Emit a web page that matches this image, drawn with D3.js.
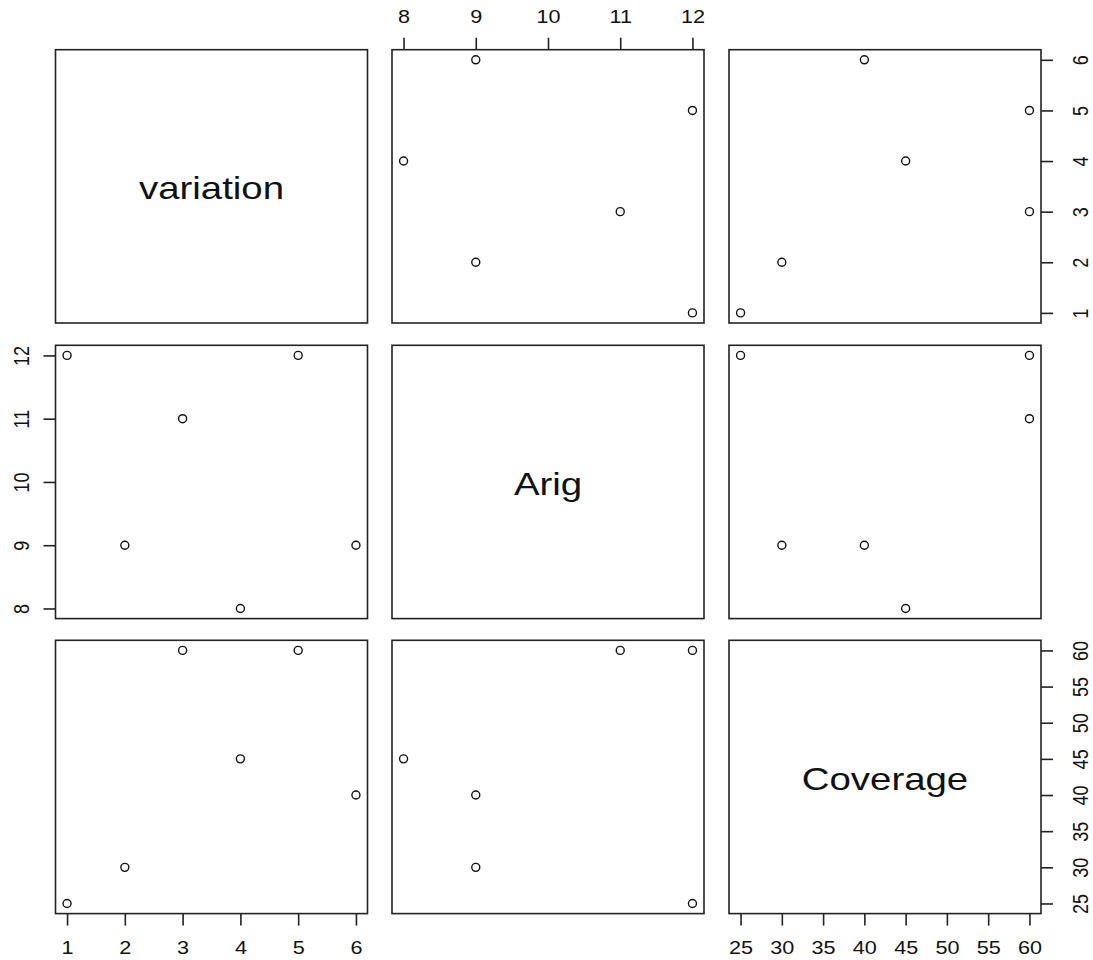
<!DOCTYPE html>
<html>
<head>
<meta charset="utf-8">
<script src="https://cdn.jsdelivr.net/npm/d3@7"></script>
<style>
  body { margin: 0; background: #fff; }
  svg text { font-family: "Liberation Sans", Arial, sans-serif; fill: #111; }
</style>
</head>
<body>
<svg></svg>
<script>
// variables of the pairs plot
var varNames = ["variation", "Arig", "Coverage"];
var variation = [1, 2, 3, 4, 5, 6];
var arig = [12, 9, 11, 8, 12, 9];
var coverage = [25, 30, 60, 45, 60, 40];
var columns = [variation, arig, coverage];

// tick labels per variable
var variationTicks = [1, 2, 3, 4, 5, 6];
var arigTicks = [8, 9, 10, 11, 12];
var coverageTicks = [25, 30, 35, 40, 45, 50, 55, 60];
var tickSets = [variationTicks, arigTicks, coverageTicks];

var svgWidth = 1093, svgHeight = 960;
var panelW = 312, panelH = 273.3;
var colLeft = [55.5, 392, 729];
var rowTop = [49.7, 345.3, 640.3];
var tickLen = 12;
var stretch = 1.2; // the glyphs in the reference are a bit wide

var svg = d3.select("svg")
    .attr("width", svgWidth)
    .attr("height", svgHeight);

// R style 4% padding on each side
function padded(values) {
    var ext = d3.extent(values);
    var pad = (ext[1] - ext[0]) * 0.04;
    return [ext[0] - pad, ext[1] + pad];
}

var xScales = columns.map(function(v, i) {
    return d3.scaleLinear().domain(padded(v)).range([colLeft[i], colLeft[i] + panelW]);
});
var yScales = columns.map(function(v, i) {
    return d3.scaleLinear().domain(padded(v)).range([rowTop[i] + panelH, rowTop[i]]);
});

var n = varNames.length;
for (var r = 0; r < n; r++) {
    for (var c = 0; c < n; c++) {
        var g = svg.append("g");
        g.append("rect")
         .attr("x", colLeft[c])
         .attr("y", rowTop[r])
         .attr("width", panelW)
         .attr("height", panelH)
         .attr("fill", "none")
         .attr("stroke", "#222")
         .attr("stroke-width", 1.6);

        if (r === c) {
            g.append("text")
             .attr("transform", "translate(" + (colLeft[c] + panelW / 2) + "," + (rowTop[r] + panelH / 2) + ") scale(" + stretch + ",1)")
             .attr("text-anchor", "middle")
             .attr("dy", "0.4em")
             .style("font-size", "32px")
             .text(varNames[r]);
            continue;
        }

        var xs = xScales[c], ys = yScales[r];
        var pts = d3.range(variation.length).map(function(i) {
            return { x: columns[c][i], y: columns[r][i] };
        });
        g.selectAll("circle")
         .data(pts)
         .enter().append("circle")
         .attr("cx", function(d) { return xs(d.x); })
         .attr("cy", function(d) { return ys(d.y); })
         .attr("r", 4)
         .attr("fill", "none")
         .attr("stroke", "#111")
         .attr("stroke-width", 1.4);
    }
}

function styleAxis(ax) {
    ax.select(".domain").remove();
    ax.selectAll(".tick line").attr("stroke", "#222").attr("stroke-width", 1.6);
    ax.selectAll(".tick text")
      .attr("x", null).attr("y", null).attr("dy", "0.36em")
      .attr("text-anchor", "middle")
      .style("font-size", "18px")
      .attr("fill", "#111");
}

// top axes on even columns, bottom axes on odd columns (R pairs layout)
for (var c2 = 0; c2 < n; c2++) {
    var axG;
    if (c2 % 2 === 1) {
        axG = svg.append("g")
            .attr("transform", "translate(0," + rowTop[0] + ")")
            .call(d3.axisTop(xScales[c2]).tickValues(tickSets[c2]).tickSize(tickLen).tickFormat(d3.format("d")));
        styleAxis(axG);
        axG.selectAll(".tick text").attr("transform", "translate(0,-32.7) scale(" + stretch + ",1)");
    } else {
        axG = svg.append("g")
            .attr("transform", "translate(0," + (rowTop[n - 1] + panelH) + ")")
            .call(d3.axisBottom(xScales[c2]).tickValues(tickSets[c2]).tickSize(tickLen).tickFormat(d3.format("d")));
        styleAxis(axG);
        axG.selectAll(".tick text").attr("transform", "translate(0,33.7) scale(" + stretch + ",1)");
    }
}

// left axes on even rows, right axes on odd rows
for (var r2 = 0; r2 < n; r2++) {
    var ayG;
    if (r2 % 2 === 1) {
        ayG = svg.append("g")
            .attr("transform", "translate(" + colLeft[0] + ",0)")
            .call(d3.axisLeft(yScales[r2]).tickValues(tickSets[r2]).tickSize(tickLen).tickFormat(d3.format("d")));
        styleAxis(ayG);
        ayG.selectAll(".tick text").attr("transform", "translate(-34.5,0) scale(" + stretch + ",1) rotate(-90)");
    } else {
        ayG = svg.append("g")
            .attr("transform", "translate(" + (colLeft[n - 1] + panelW) + ",0)")
            .call(d3.axisRight(yScales[r2]).tickValues(tickSets[r2]).tickSize(tickLen).tickFormat(d3.format("d")));
        styleAxis(ayG);
        ayG.selectAll(".tick text").attr("transform", "translate(39.5,0) scale(" + stretch + ",1) rotate(-90)");
    }
}
</script>
</body>
</html>
